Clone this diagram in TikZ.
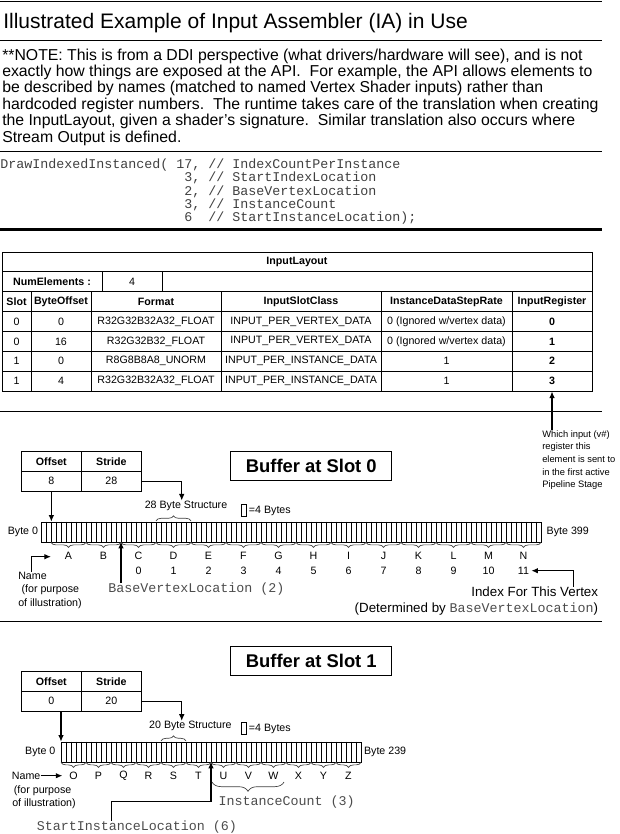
\documentclass[tikz,border=0pt]{standalone}
\usepackage{fontspec}
\setmainfont{Liberation Sans}
\setmonofont{Liberation Mono}
\usepackage{tikz}
\usetikzlibrary{arrows.meta,positioning,decorations.pathreplacing,calc}

\def\px{0.75pt}
\newcommand\ignored{0 (Ignored w/vertex data)}

\tikzset{
  rule/.style={line width=1.1pt},
  cell/.style={draw, line width=0.6pt, inner sep=0pt, minimum height=19.86*\px, font=\fontsize{8pt}{9.6pt}\selectfont},
  hcell/.style={cell, font=\fontsize{8pt}{9.6pt}\selectfont\bfseries},
  arr/.style={->, >={Latex[length=5pt,width=4.2pt]}, line width=0.9pt},
  lbl/.style={inner sep=0pt, font=\fontsize{8pt}{9.9pt}\selectfont},
  code/.style={inner sep=0pt, anchor=base west, text=black!75, font=\fontsize{10pt}{12pt}\ttfamily},
  mono/.style={inner sep=0pt, anchor=west, text=black!70, font=\fontsize{10pt}{12pt}\ttfamily},
  lowbrace/.style={decorate, decoration={brace, mirror, amplitude=3.75pt}, line width=0.5pt, black!75},
  highbrace/.style={decorate, decoration={brace, amplitude=3.75pt}, line width=0.5pt, black!75},
  titlebox/.style={draw, line width=0.8pt, minimum width=160.7*\px, minimum height=29.3*\px, font=\fontsize{13.8pt}{16pt}\selectfont\bfseries},
  unitbox/.style={draw, line width=0.6pt, inner sep=0pt, minimum width=4.6*\px, minimum height=12*\px},
}

\begin{document}
\begin{tikzpicture}[x=0.75pt, y=-0.75pt]
\useasboundingbox (0,0) rectangle (620,834);

% heading and note
\draw[rule] (0,1.7) -- (602,1.7);
\node[anchor=base west, inner sep=0pt, font=\fontsize{15.75pt}{18pt}\selectfont] (title) at (3,28.5) {Illustrated Example of Input Assembler (IA) in Use};
\draw[rule] (0,40.7) -- (602,40.7);
\node[anchor=north west, inner sep=0pt, align=left, font=\fontsize{11.85pt}{12.3pt}\selectfont] (note) at (2,48.4)
  {**NOTE: This is from a DDI perspective (what drivers/hardware will see), and is not\\
   exactly how things are exposed at the API.\ \ For example, the API allows elements to\\
   be described by names (matched to named Vertex Shader inputs) rather than\\
   hardcoded register numbers.\ \ The runtime takes care of the translation when creating\\
   the InputLayout, given a shader’s signature.\ \ Similar translation also occurs where\\
   Stream Output is defined.};
\draw[rule] (0,151.7) -- (602,151.7);

% the draw call
\node[code] (call) at (0,168.5) {DrawIndexedInstanced( 17, // IndexCountPerInstance};
\node[code] (arg2) at (184,181.8) {3, // StartIndexLocation};
\node[code] (arg3) at (184,195.1) {2, // BaseVertexLocation};
\node[code] (arg4) at (184,208.4) {3, // InstanceCount};
\node[code] (arg5) at (184,221.7) {6\ \ // StartInstanceLocation);};
\draw[line width=1.8pt] (0,229.5) -- (602,229.5);

% input layout table
\node[hcell, minimum width=590*\px] (layout) at (297,261.9) {InputLayout};
\node[hcell, minimum width=100*\px] (numel) at (52,281.8) {NumElements :};
\node[cell, minimum width=60*\px] (numval) at (132,281.8) {4};
\node[cell, minimum width=430*\px] (numrest) at (377,281.8) {};
\foreach \t/\cx/\w [count=\c from 0] in {Slot/16.5/29, ByteOffset/61/60, Format/156/130,
    InputSlotClass/301/160, InstanceDataStepRate/446.5/131, InputRegister/552/80}
  \node[hcell, minimum width=\w*\px] (h\c) at (\cx,301.65) {\t};
\foreach \sl/\bo/\fmt/\cls/\rate/\reg [count=\r from 0] in {
    0/0/R32G32B32A32\_FLOAT/INPUT\_PER\_VERTEX\_DATA/\ignored/0,
    0/16/R32G32B32\_FLOAT/INPUT\_PER\_VERTEX\_DATA/\ignored/1,
    1/0/R8G8B8A8\_UNORM/INPUT\_PER\_INSTANCE\_DATA/1/2,
    1/4/R32G32B32A32\_FLOAT/INPUT\_PER\_INSTANCE\_DATA/1/3}
{
  \node[cell, minimum width=29*\px] (r\r-0) at (16.5,321.5+19.86*\r) {\sl};
  \node[cell, minimum width=60*\px] (r\r-1) at (61,321.5+19.86*\r) {\bo};
  \node[cell, minimum width=130*\px] (r\r-2) at (156,321.5+19.86*\r) {\fmt};
  \node[cell, minimum width=160*\px] (r\r-3) at (301,321.5+19.86*\r) {\cls};
  \node[cell, minimum width=131*\px] (r\r-4) at (446.5,321.5+19.86*\r) {\rate};
  \node[cell, minimum width=80*\px] (r\r-5) at (552,321.5+19.86*\r) {\textbf{\reg}};
}
\node[lbl, anchor=north west, align=left, font=\fontsize{7pt}{9.5pt}\selectfont] (which) at (542,430)
  {Which input (v\#)\\register this\\element is sent to\\in the first active\\Pipeline Stage};
\draw[rule] (0,411.7) -- (602,411.7);
\draw[arr] (which.north -| r3-5) -- (r3-5.south);

% buffer at slot 0
\node[titlebox] (buf0) at (311.3,466.3) {Buffer at Slot 0};
\node[hcell, minimum width=60.7*\px, minimum height=19.6*\px] (off0) at (51.35,461.5) {Offset};
\node[hcell, minimum width=59.3*\px, minimum height=19.6*\px] (str0) at (111.35,461.5) {Stride};
\node[cell, minimum width=60.7*\px, minimum height=19.6*\px] (off0v) at (51.35,481.1) {8};
\node[cell, minimum width=59.3*\px, minimum height=19.6*\px] (str0v) at (111.35,481.1) {28};

\node[draw, line width=0.6pt, inner sep=0pt, minimum width=500*\px, minimum height=20*\px, anchor=north west] (tape0) at (41,521.7) {};
\foreach \i in {1,...,99}
  \draw[line width=0.5pt] (41+5*\i,521.7) -- (41+5*\i,541.7);
\node[lbl, left=2pt of tape0] (byte0a) {Byte 0};
\node[lbl, right=3.5pt of tape0] (byte0b) {Byte 399};

\node[lbl] (struct0) at (186,505.7) {28 Byte Structure};
\draw[highbrace] (156,520.8) -- (191,520.8);
\node[unitbox] (unit0) at (244,510.5) {};
\node[lbl, right=1.5pt of unit0] (unit0t) {=4 Bytes};
\draw[arr] (str0v.east) -| ([xshift=-3.2pt]struct0.north);
\draw[arr] (off0v.south) -- (off0v.south |- tape0.north);

\foreach \l [count=\i from 0] in {A,...,N} {
  \draw[lowbrace] (51+35*\i,542.4) -- (86+35*\i,542.4);
  \node[lbl] (l0-\i) at (68.5+35*\i,555.7) {\l};
}
\foreach \i in {0,...,11}
  \node[lbl] (n0-\i) at (138.5+35*\i,570.7) {\i};

\coordinate (bvl0) at (121,541.7);
\node[mono] (bvl) at (108,589) {BaseVertexLocation (2)};
\draw[arr] (bvl.north -| bvl0) -- (bvl0);

\node[lbl, anchor=north west, align=left] (name0) at (18,572) {Name\\\hspace*{2.5pt}(for purpose\\of illustration)};
\coordinate (name0up) at (31.7,556.7);
\coordinate (name0tip) at (51,556.7);
\draw[arr] (name0.north -| name0up) -- (name0up) -- (name0tip);

\node[anchor=east, inner sep=0pt, font=\fontsize{10pt}{12pt}\selectfont] (idx) at (598.3,591.7) {Index For This Vertex};
\node[anchor=east, inner sep=0pt, font=\fontsize{10pt}{12pt}\selectfont] (det) at (598.3,609)
  {(Determined by {\color{black!70}\ttfamily BaseVertexLocation})};
\coordinate (idxturn) at (573.3,570.7);
\draw[arr] (idx.north -| idxturn) -- (idxturn) -- ([xshift=1.5pt]n0-11.east);

% buffer at slot 1
\draw[rule] (0,621.7) -- (602,621.7);
\node[titlebox] (buf1) at (311.3,661.3) {Buffer at Slot 1};
\node[hcell, minimum width=60.7*\px, minimum height=19.6*\px] (off1) at (51.35,681.5) {Offset};
\node[hcell, minimum width=59.3*\px, minimum height=19.6*\px] (str1) at (111.35,681.5) {Stride};
\node[cell, minimum width=60.7*\px, minimum height=19.6*\px] (off1v) at (51.35,701.1) {0};
\node[cell, minimum width=59.3*\px, minimum height=19.6*\px] (str1v) at (111.35,701.1) {20};

\node[draw, line width=0.6pt, inner sep=0pt, minimum width=300*\px, minimum height=20*\px, anchor=north west] (tape1) at (61,741.7) {};
\foreach \i in {1,...,59}
  \draw[line width=0.5pt] (61+5*\i,741.7) -- (61+5*\i,761.7);
\node[lbl, left=4pt of tape1] (byte1a) {Byte 0};
\node[lbl, right=1.5pt of tape1] (byte1b) {Byte 239};

\node[lbl] (struct1) at (190.4,726) {20 Byte Structure};
\draw[highbrace] (161,740.8) -- (186,740.8);
\node[unitbox] (unit1) at (244,728.5) {};
\node[lbl, right=1.5pt of unit1] (unit1t) {=4 Bytes};
\draw[arr] (str1v.east) -| ([xshift=-6.5pt]struct1.north);
\draw[arr] (tape1.north west |- off1v.south) -- (tape1.north west);

\foreach \l [count=\i from 0] in {O,...,Z} {
  \draw[lowbrace] (61+25*\i,762.4) -- (86+25*\i,762.4);
  \node[lbl] (l1-\i) at (73.5+25*\i,775.7) {\l};
}

\node[lbl, anchor=west] (name1) at (11.7,775.7) {Name};
\node[lbl, anchor=north west, align=left] (name1b) at (12,785.5) {\hspace*{1.2pt}(for purpose\\of illustration)};
\draw[arr] (name1.east) -- ([xshift=-5pt]l1-0.west);

\coordinate (sil1) at (111.7,801.7);
\coordinate (c1) at (211,761.7);
\node[mono] (sil) at (36.7,827.3) {StartInstanceLocation (6)};
\draw[arr] (sil.north -| sil1) -- (sil1) -| (c1);

\draw[decorate, decoration={brace, mirror, amplitude=7pt}, line width=0.5pt, black!75] (212,782) -- (284,782);
\node[mono] (icnt) at (218.3,801.7) {InstanceCount (3)};
\end{tikzpicture}
\end{document}
